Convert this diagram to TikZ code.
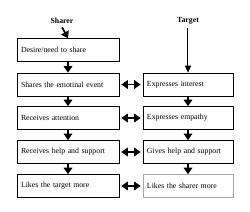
\documentclass[tikz,border=0pt]{standalone}
\usepackage{fontspec}
\setmainfont{Liberation Serif}
\usetikzlibrary{arrows.meta,positioning}
\tikzset{
  stagebox/.style={draw, line width=0.6pt, minimum height=23pt, inner xsep=4pt,
    align=left, anchor=center, font=\fontsize{7.8}{9}\selectfont},
  leftbox/.style={stagebox, minimum width=102pt, text width=94pt},
  rightbox/.style={stagebox, minimum width=90pt, text width=82pt},
  downarrow/.style={line width=1.7pt, -{Triangle[width=8.5pt,length=6.5pt]}},
  linkarrow/.style={line width=1.7pt, {Triangle[width=8.5pt,length=6.5pt]}-{Triangle[width=8.5pt,length=6.5pt]}},
}
\begin{document}
\begin{tikzpicture}[x=1pt, y=1pt]
  \useasboundingbox (0,0) rectangle (250,212);
  % headings
  \node[font=\bfseries\fontsize{7.8}{9}\selectfont] (sharer) at (62,191) {Sharer};
  \node[font=\bfseries\fontsize{7.8}{9}\selectfont] (target) at (188,191) {Target};
  % sharer column
  \node[leftbox] (s1) at (68,162)   {Desire/need to share};
  \node[leftbox] (s2) at (68,127.5) {Shares the emotinal event};
  \node[leftbox] (s3) at (68,94)    {Receives attention};
  \node[leftbox] (s4) at (68,60)    {Receives help and support};
  \node[leftbox] (s5) at (68,26)    {Likes the target more};
  % target column
  \node[rightbox] (t2) at (188,127.5) {Expresses interest};
  \node[rightbox] (t3) at (188,94)    {Expresses empathy};
  \node[rightbox] (t4) at (188,60)    {Gives help and support};
  \node[rightbox, draw=black!35] (t5) at (188,26) {Likes the sharer more};
  % vertical arrows
  \draw[downarrow] (sharer.south) -- (s1.north);
  \draw[downarrow] (s1) -- (s2);
  \draw[downarrow] (s2) -- (s3);
  \draw[downarrow] (s3) -- (s4);
  \draw[downarrow] (s4) -- (s5);
  \draw[line width=1pt, -{Triangle[width=6pt,length=7pt]}] (target.south) -- (t2.north);
  \draw[downarrow] (t2) -- (t3);
  \draw[downarrow] (t3) -- (t4);
  \draw[downarrow] (t4) -- (t5);
  % links between columns
  \draw[linkarrow] ([xshift=2pt]s2.east) -- ([xshift=-2pt]t2.west);
  \draw[linkarrow] ([xshift=2pt]s3.east) -- ([xshift=-2pt]t3.west);
  \draw[linkarrow] ([xshift=2pt]s4.east) -- ([xshift=-2pt]t4.west);
  \draw[linkarrow] ([xshift=2pt]s5.east) -- ([xshift=-2pt]t5.west);
\end{tikzpicture}
\end{document}
